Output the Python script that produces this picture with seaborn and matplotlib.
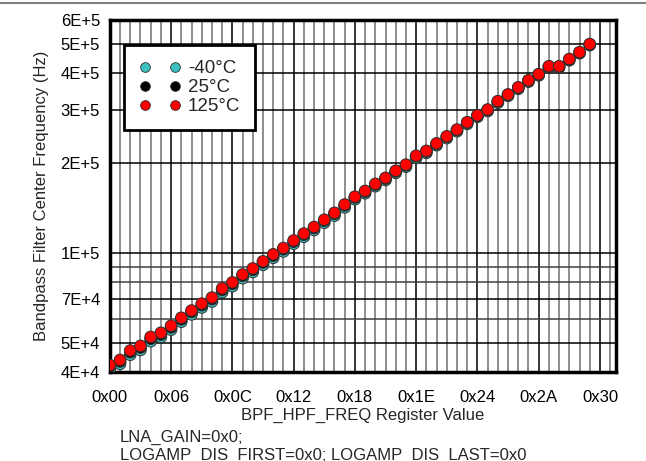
import matplotlib
matplotlib.use('Agg')
import matplotlib.pyplot as plt
import pandas as pd
import seaborn as sns
from matplotlib.ticker import FixedLocator, MultipleLocator, NullFormatter
from matplotlib.lines import Line2D

sns.set_style('white')
plt.rcParams['font.family'] = ['Liberation Sans', 'DejaVu Sans']

# register values 0x00..0x2F
reg = list(range(48))
f_125 = [42200, 43900, 47200, 48900, 52400, 54100, 57100, 60700, 64200, 67700,
         70900, 76100, 79700, 84700, 88700, 93700, 98900, 103800, 110000, 116000,
         122000, 129000, 136000, 145000, 154000, 161000, 170000, 178000, 188000, 197000,
         211000, 219000, 232000, 245000, 258000, 273000, 288000, 301000, 321000, 338000,
         357000, 377000, 395000, 420000, 420000, 444000, 468000, 498000]
f_25 = [41700, 43400, 46600, 48300, 51700, 53400, 56400, 60000, 63500, 66900,
        70100, 75200, 78800, 83800, 87800, 92800, 97900, 102800, 109000, 115000,
        121000, 128000, 135000, 144000, 153000, 160000, 169000, 177000, 187000, 196000,
        210000, 218000, 231000, 244000, 257000, 272000, 287000, 300000, 320000, 337000,
        356000, 376000, 394000, 418000, 418000, 442000, 466000, 496000]
f_m40 = [40900, 42600, 45700, 47400, 50700, 52400, 55400, 58900, 62300, 65700,
         68800, 73900, 77400, 82300, 86300, 91200, 96300, 101100, 107300, 113200,
         119200, 126100, 133100, 141800, 151000, 158100, 167000, 175100, 185000, 194000,
         207500, 215700, 228800, 241600, 254700, 269500, 284500, 297500, 317300, 334500,
         353100, 373000, 391300, 415500, 415500, 439700, 464000, 494000]
temps = ['-40°C', '25°C', '125°C']
colors = ['#3cbfbf', '#000000', '#ff0000']

df = pd.concat([
    pd.DataFrame({'reg': reg, 'freq': f_m40, 'temp': temps[0]}),
    pd.DataFrame({'reg': reg, 'freq': f_25, 'temp': temps[1]}),
    pd.DataFrame({'reg': reg, 'freq': f_125, 'temp': temps[2]}),
])

fig = plt.figure(figsize=(6.46, 4.61), dpi=100)
ax = fig.add_axes([0.170, 0.193, 0.784, 0.764])
fig.add_artist(Line2D([0, 1], [0.993, 0.993], color='#808080', lw=1.5))

sns.scatterplot(data=df, x='reg', y='freq', hue='temp', palette=colors,
                s=70, edgecolor='#303030', linewidth=0.7, legend=False, ax=ax, zorder=3)

ax.set_yscale('log')
ax.set_ylim(40000, 600000)
ax.set_xlim(0, 49.6)
yt = [4e4, 5e4, 7e4, 1e5, 2e5, 3e5, 4e5, 5e5, 6e5]
ax.yaxis.set_major_locator(FixedLocator(yt))
ax.set_yticklabels(['4E+4', '5E+4', '7E+4', '1E+5', '2E+5', '3E+5', '4E+5', '5E+5', '6E+5'])
ax.yaxis.set_minor_locator(FixedLocator([6e4, 8e4, 9e4]))
ax.yaxis.set_minor_formatter(NullFormatter())
ax.set_xticks(range(0, 49, 6))
ax.set_xticklabels(['0x%02X' % v for v in range(0, 49, 6)])
ax.xaxis.set_minor_locator(MultipleLocator(1))
ax.grid(which='major', color='black', lw=1.1)
ax.grid(which='minor', axis='x', color='#707070', lw=1.1)
ax.grid(which='minor', axis='y', color='#404040', lw=1.1)
ax.tick_params(which='both', length=0, labelsize=12, colors='black', pad=7)
ax.tick_params(axis='x', pad=13)
for s in ax.spines.values():
    s.set_linewidth(2.5)
    s.set_color('black')

ax.set_xlabel('BPF_HPF_FREQ Register Value', fontsize=12, labelpad=2)
ax.set_ylabel('Bandpass Filter Center Frequency (Hz)', fontsize=12, labelpad=8)

handles = [Line2D([], [], ls='', marker='o', markersize=7, markerfacecolor=c,
                  markeredgecolor='#303030', markeredgewidth=0.6) for c in colors]
leg = ax.legend(handles, temps, loc='upper left', bbox_to_anchor=(0.01, 0.955),
                numpoints=2, fontsize=13.5, frameon=True, fancybox=False,
                handlelength=2.2, handletextpad=0.4, borderpad=0.8, labelspacing=0.1)
leg.get_frame().set_edgecolor('black')
leg.get_frame().set_linewidth(2)
leg.get_frame().set_alpha(1)

fig.text(0.185, 0.052, 'LNA_GAIN=0x0;', fontsize=12, va='center')
fig.text(0.185, 0.013, 'LOGAMP_DIS_FIRST=0x0; LOGAMP_DIS_LAST=0x0', fontsize=12, va='center')

fig.savefig('out.png', dpi=100)
